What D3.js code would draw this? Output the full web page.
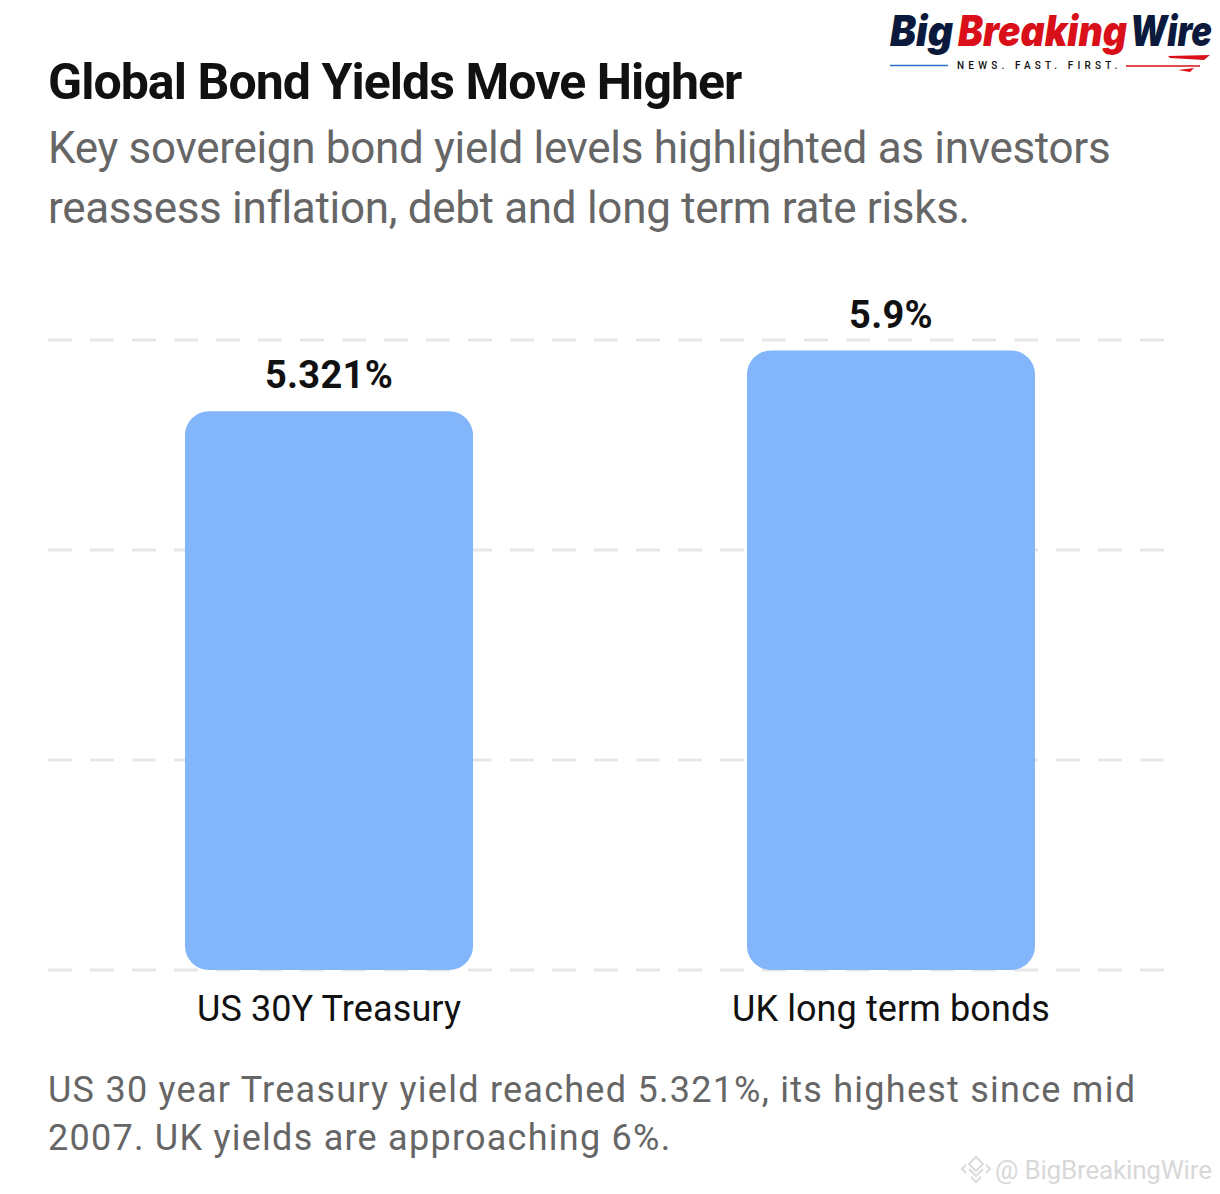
<!DOCTYPE html>
<html><head><meta charset="utf-8">
<script src="https://cdnjs.cloudflare.com/ajax/libs/d3/7.9.0/d3.min.js"></script>
<style>html,body{margin:0;padding:0;background:#fff}svg{display:block}text{font-family:Roboto,sans-serif}</style>
</head><body><svg id="c" width="1220" height="1194"></svg>
<script>
const categories = ["US 30Y Treasury", "UK long term bonds"];
const yields = [5.321, 5.9];
const valueLabels = ["5.321%", "5.9%"];
const gridTicks = [0, 2, 4, 6];
const titleText = "Global Bond Yields Move Higher";
const subtitleLines = ["Key sovereign bond yield levels highlighted as investors", "reassess inflation, debt and long term rate risks."];
const footnoteLines = ["US 30 year Treasury yield reached 5.321%, its highest since mid", "2007. UK yields are approaching 6%."];

const svg = d3.select("#c");
const x = d3.scaleBand().domain(categories).range([48, 1172]).paddingInner(0.4875).paddingOuter(0.24375);
const y = d3.scaleLinear().domain([0, 6]).range([970, 340]);

function txt(s, px, py, size, weight, fill, ls, anchor) {
  return svg.append("text").attr("x", px).attr("y", py).attr("font-size", size).attr("font-weight", weight)
    .attr("fill", fill).attr("letter-spacing", ls || 0).attr("text-anchor", anchor || "start").text(s);
}

txt(titleText, 48, 99, 50, 700, "#111111", -0.95);
subtitleLines.forEach((l, i) => txt(l, 48, 163 + i * 60, 44, 400, "#666666", -0.31));

// grid
svg.append("g").selectAll("line").data(gridTicks).join("line")
  .attr("x1", 48).attr("x2", 1172).attr("y1", d => y(d)).attr("y2", d => y(d))
  .attr("stroke", "#e7e7e7").attr("stroke-width", 3).attr("stroke-dasharray", "24 18");

// bars
svg.append("g").selectAll("rect").data(categories).join("rect")
  .attr("x", d => x(d)).attr("width", x.bandwidth())
  .attr("y", (d, i) => y(yields[i])).attr("height", (d, i) => y(0) - y(yields[i]))
  .attr("rx", 24).attr("ry", 24).attr("fill", "#82B5FA");

// value labels
svg.append("g").selectAll("text").data(categories).join("text")
  .attr("x", d => x(d) + x.bandwidth() / 2).attr("y", (d, i) => y(yields[i]) - 23)
  .attr("text-anchor", "middle").attr("font-size", 38).attr("font-weight", 700).attr("fill", "#111111")
  .attr("letter-spacing", 0.3).text((d, i) => valueLabels[i]);

// category axis
const ax = svg.append("g").attr("transform", "translate(0,970)").call(d3.axisBottom(x).tickSize(0).tickPadding(25.5));
ax.select(".domain").remove();
ax.selectAll("text").attr("font-size", 36).attr("fill", "#111111").attr("font-family", "Roboto,sans-serif").attr("dy", "0.71em").attr("letter-spacing", 0.1);

footnoteLines.forEach((l, i) => txt(l, 48, 1102 + i * 48, 36, 400, "#666666", 1.25));

// logo: each word is squeezed horizontally to its width in the wordmark
[["Big", 890, 63, "#0b1a3c"], ["Breaking", 958, 169, "#d9101a"], ["Wire", 1130, 82, "#0b1a3c"]].forEach(([s, lx, w, c]) => {
  const t = svg.append("text").attr("font-size", 42).attr("font-weight", 900)
    .attr("font-style", "italic").style("font-family", "Inter,Roboto,sans-serif").attr("fill", c).text(s);
  const sx = w / t.node().getComputedTextLength();
  t.attr("transform", `translate(${lx},46) scale(${sx},1)`);
});
txt("NEWS. FAST. FIRST.", 957, 69, 10, 500, "#111111", 4.2);
svg.append("line").attr("x1", 890).attr("x2", 948).attr("y1", 65.5).attr("y2", 65.5).attr("stroke", "#2a6fc9").attr("stroke-width", 1.3);
svg.append("line").attr("x1", 1126).attr("x2", 1200).attr("y1", 66).attr("y2", 66).attr("stroke", "#d9101a").attr("stroke-width", 1.3);
svg.append("path").attr("d", "M1168 56L1210 55L1204 60L1170 58Z M1178 70L1194 68L1190 72Z").attr("fill", "#d9101a");

// watermark
const wm = svg.append("g").attr("fill", "none").attr("stroke", "#dcdcdc").attr("stroke-width", 2);
wm.append("path").attr("d", "M976 1157L983 1164L976 1171L969 1164Z M969 1169L976 1176L983 1169 M966 1165L962 1169L966 1173 M986 1165L990 1169L986 1173 M971 1177L976 1182L981 1177");
txt("@ BigBreakingWire", 995, 1179, 26, 400, "#d8d8d8", -0.18);
</script></body></html>
